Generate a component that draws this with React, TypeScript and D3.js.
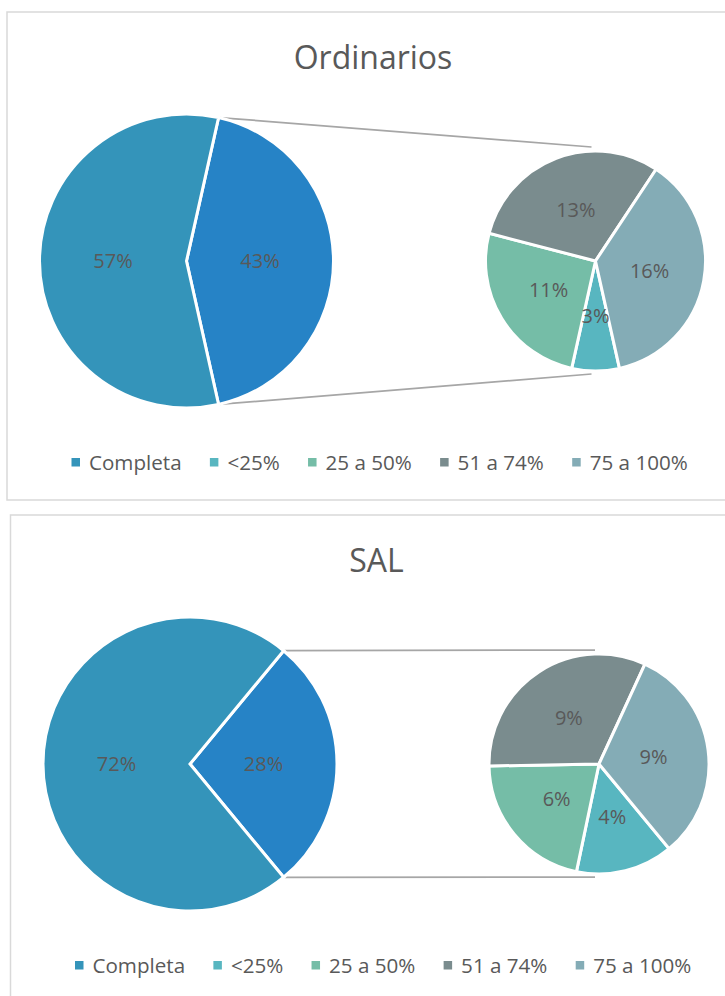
import React, { useEffect, useRef } from "react";
import * as d3 from "d3";

const categories = ["Completa", "<25%", "25 a 50%", "51 a 74%", "75 a 100%"];
const ordinariosValues = [57, 3, 11, 13, 16];
const salValues = [72, 4, 6, 9, 9];
const chartTitles = ["Ordinarios", "SAL"];

// Excel "Blue Green" theme, last one is the "Other" slice
const colors = ["#3494BA", "#58B6C0", "#75BDA7", "#7A8C8E", "#84ACB6"];
const otherColor = "#2683C6";
const textColor = "#595959";
const font = "'Open Sans', sans-serif";

const drawChart = (svg, values, title, boxX, boxY) => {
  const g = svg.append("g");

  g.append("rect")
    .attr("x", boxX)
    .attr("y", boxY)
    .attr("width", 745)
    .attr("height", 488)
    .attr("fill", "white")
    .attr("stroke", "#D9D9D9")
    .attr("stroke-width", 1.5);

  g.append("text")
    .attr("x", boxX + 366)
    .attr("y", boxY + 57)
    .attr("text-anchor", "middle")
    .attr("fill", textColor)
    .style("font-family", font)
    .style("font-size", "32px")
    .text(title);

  const mainX = boxX + 179.5;
  const mainY = boxY + 249;
  const mainR = 147;
  const secX = boxX + 588.5;
  const secY = boxY + 249;
  const secR = 110;

  const rest = values.slice(1);
  const otherTotal = d3.sum(rest);
  const total = d3.sum(values);
  const otherAngle = (2 * Math.PI * otherTotal) / total;

  const mainPie = d3
    .pie()
    .sort(null)
    .value((d) => d.value)
    .startAngle(Math.PI / 2 - otherAngle / 2)
    .endAngle(Math.PI / 2 - otherAngle / 2 + 2 * Math.PI);

  const mainData = mainPie([
    { value: otherTotal, color: otherColor },
    { value: values[0], color: colors[0] },
  ]);

  const mainArc = d3.arc().innerRadius(0).outerRadius(mainR);

  // connector lines from the "other" slice to the second pie
  const a0 = mainData[0].startAngle;
  const a1 = mainData[0].endAngle;
  const lines = [
    [a0, secY - secR - 4],
    [a1, secY + secR + 3],
  ];
  lines.forEach(([a, yEnd]) => {
    g.append("line")
      .attr("x1", mainX + mainR * Math.sin(a))
      .attr("y1", mainY - mainR * Math.cos(a))
      .attr("x2", secX - 4)
      .attr("y2", yEnd)
      .attr("stroke", "#A6A6A6")
      .attr("stroke-width", 1.75);
  });

  const mg = g.append("g").attr("transform", `translate(${mainX},${mainY})`);
  mg.selectAll("path")
    .data(mainData)
    .enter()
    .append("path")
    .attr("d", mainArc)
    .attr("fill", (d) => d.data.color)
    .attr("stroke", "white")
    .attr("stroke-width", 3)
    .attr("stroke-linejoin", "miter");

  mg.selectAll("text")
    .data(mainData)
    .enter()
    .append("text")
    .attr("x", (d) => mainArc.centroid(d)[0])
    .attr("y", (d) => mainArc.centroid(d)[1] + 7)
    .attr("text-anchor", "middle")
    .attr("fill", textColor)
    .style("font-family", font)
    .style("font-size", "20px")
    .text((d) => `${d.data.value}%`);

  const secPie = d3
    .pie()
    .sort(null)
    .startAngle(Math.PI / 2 + otherAngle / 2)
    .endAngle(Math.PI / 2 + otherAngle / 2 + 2 * Math.PI);

  const secData = secPie(rest);
  const secArc = d3.arc().innerRadius(0).outerRadius(secR);

  const sg = g.append("g").attr("transform", `translate(${secX},${secY})`);
  sg.selectAll("path")
    .data(secData)
    .enter()
    .append("path")
    .attr("d", secArc)
    .attr("fill", (d, i) => colors[i + 1])
    .attr("stroke", "white")
    .attr("stroke-width", 3);

  sg.selectAll("text")
    .data(secData)
    .enter()
    .append("text")
    .attr("x", (d) => secArc.centroid(d)[0])
    .attr("y", (d) => secArc.centroid(d)[1] + 7)
    .attr("text-anchor", "middle")
    .attr("fill", textColor)
    .style("font-family", font)
    .style("font-size", "20px")
    .text((d) => `${d.data}%`);

  // legend
  const legendY = boxY + 458;
  let lx = boxX + 64.5;
  categories.forEach((c, i) => {
    g.append("rect")
      .attr("x", lx)
      .attr("y", legendY - 12)
      .attr("width", 8.5)
      .attr("height", 8.5)
      .attr("fill", colors[i]);
    const t = g
      .append("text")
      .attr("x", lx + 17.5)
      .attr("y", legendY)
      .attr("fill", textColor)
      .style("font-family", font)
      .style("font-size", "20.6px")
      .text(c);
    const w = t.node().getComputedTextLength();
    lx = lx + 17.5 + w + 28.3;
  });
};

const App = () => {
  const chartRef = useRef(null);

  useEffect(() => {
    const svg = d3.select(chartRef.current);
    svg.selectAll("*").remove();

    svg
      .append("rect")
      .attr("width", 725)
      .attr("height", 996)
      .attr("fill", "white");

    drawChart(svg, ordinariosValues, chartTitles[0], 7, 12);
    drawChart(svg, salValues, chartTitles[1], 10.5, 515);
  }, []);

  return (
    <div style={{ position: "absolute", left: 0, top: 0 }}>
      <svg ref={chartRef} width={725} height={996} style={{ display: "block" }}></svg>
    </div>
  );
};

export default App;
